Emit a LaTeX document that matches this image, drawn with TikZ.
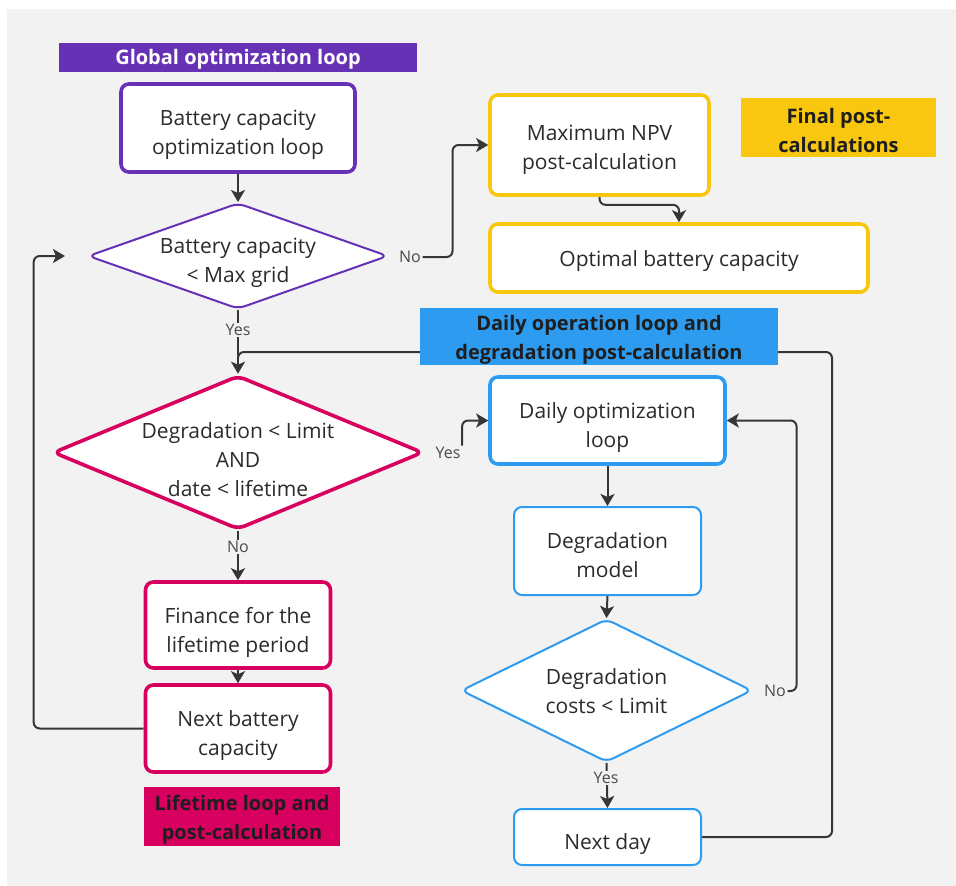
\documentclass[tikz,border=0pt]{standalone}
\usepackage{fontspec}
\setmainfont{Open Sans}
\usetikzlibrary{shapes.geometric,arrows.meta,calc}
\definecolor{bg}{HTML}{F2F2F2}
\definecolor{cpur}{HTML}{6631B5}
\definecolor{cyel}{HTML}{FAC710}
\definecolor{cpink}{HTML}{D8005F}
\definecolor{cblue}{HTML}{2D9BEF}
\definecolor{cline}{HTML}{363636}
\definecolor{ctext}{HTML}{2B2B2B}
\definecolor{clab}{HTML}{1E1E1E}
\pgfdeclarelayer{bglayer}
\pgfdeclarelayer{edges}
\pgfsetlayers{bglayer,edges,main}
\begin{document}
\begin{tikzpicture}[x=1pt,y=-1pt,
  box/.style={draw, fill=white, rounded corners=8pt, inner sep=0pt},
  thickb/.style={line width=3.6pt},
  thinb/.style={line width=2pt},
  dia/.style={diamond, draw, fill=white, rounded corners=7pt, inner sep=0pt},
  txt/.style={align=center, text=ctext, font=\fontsize{21}{29}\selectfont, inner sep=0pt},
  lab/.style={align=center, text=clab, font=\bfseries\fontsize{20}{29}\selectfont, inner sep=0pt},
  cond/.style={font=\fontsize{16}{18}\selectfont, text=ctext!85, fill=bg, inner sep=1.5pt},
  arr/.style={draw=cline, line width=2pt, rounded corners=6pt,
    -{Stealth[length=12pt,width=14pt,inset=3pt]}},
  ln/.style={draw=cline, line width=2pt, rounded corners=6pt}
]
\useasboundingbox (0,0) rectangle (956,886);
\begin{pgfonlayer}{bglayer}
  \fill[bg] (7,9) rectangle (956,886);
\end{pgfonlayer}

% labels of the groups
\node[fill=cpur, minimum width=358, minimum height=29, inner sep=0pt] (glab) at (238,57.5) {};
\node[lab, text=white] (glabt) at (238,59.5) {Global optimization loop};
\node[fill=cyel, minimum width=195, minimum height=59, inner sep=0pt] (flab) at (838.5,127.5) {};
\node[lab] (flabt) at (838.5,130) {Final post-\\calculations};
\node[fill=cblue, minimum width=358, minimum height=57, inner sep=0pt] (blab) at (599,336.5) {};
\node[lab] (blabt) at (599,339.5) {Daily operation loop and\\degradation post-calculation};
\node[fill=cpink, minimum width=196, minimum height=59, inner sep=0pt] (llab) at (242,816.5) {};
\node[lab] (llabt) at (242,819.5) {Lifetime loop and\\post-calculation};

% global loop
\node[box, thickb, draw=cpur, minimum width=234, minimum height=88] (b1) at (238,128) {};
\node[txt] (b1t) at (238,135) {Battery capacity\\optimization loop};
\node[dia, thinb, draw=cpur, minimum width=300, minimum height=106] (d1) at (238,256) {};
\node[txt] (d1t) at (238,262.5) {Battery capacity\\< Max grid};

% final post-calculations
\node[box, thickb, draw=cyel, minimum width=219, minimum height=100] (npv) at (599.5,145) {};
\node[txt] (npvt) at (599.5,149.5) {Maximum NPV\\post-calculation};
\node[box, thickb, draw=cyel, minimum width=378, minimum height=68] (opt) at (679,258) {};
\node[txt] (optt) at (679,261) {Optimal battery capacity};

% lifetime loop
\node[dia, thickb, draw=cpink, minimum width=370, minimum height=154] (d2) at (238,452.5) {};
\node[txt] (d2t) at (238,460) {Degradation < Limit\\AND\\date < lifetime};
\node[box, thickb, draw=cpink, minimum width=185, minimum height=86] (fin) at (238,625) {};
\node[txt] (fint) at (238,632) {Finance for the\\lifetime period};
\node[box, thickb, draw=cpink, minimum width=185, minimum height=87] (nbc) at (238,728.5) {};
\node[txt] (nbct) at (238,735.5) {Next battery\\capacity};

% daily loop
\node[box, thickb, draw=cblue, minimum width=235, minimum height=87] (daily) at (607.5,420.5) {};
\node[txt] (dailyt) at (607.5,427.5) {Daily optimization\\loop};
\node[box, thinb, draw=cblue, minimum width=187, minimum height=88] (dm) at (607.5,551) {};
\node[txt] (dmt) at (607.5,555) {Degradation\\model};
\node[dia, thinb, draw=cblue, minimum width=291, minimum height=143] (d3) at (606.5,690.5) {};
\node[txt] (d3t) at (606.5,691) {Degradation\\costs < Limit};
\node[box, thinb, draw=cblue, minimum width=187, minimum height=56] (nd) at (607.5,837) {};
\node[txt] (ndt) at (607.5,844) {Next day};

% condition labels
\node[cond] (no1) at (410,257) {No};
\node[cond] (yes1) at (238,330) {Yes};
\node[cond] (yes2) at (448,453) {Yes};
\node[cond] (no2) at (238,547) {No};
\node[cond] (no3) at (775,691) {No};
\node[cond] (yes3) at (606,778) {Yes};

\coordinate (ret) at ($(d1.west)+(-22,0)$);
\coordinate (join) at (238,352);

\begin{pgfonlayer}{edges}
  \draw[arr] (b1.south) -- (d1.north);
  \draw[arr] (no1.east) -- ++(30,0) |- (npv.west);
  \draw[arr] (npv.south) -- ++(0,8) -| (opt.north);
  \draw[arr] (d1.south) -- (d2.north);
  \draw[ln] (nd.east) -- ++(130,0) |- (join) -- ++(0,6);
  \draw[arr] (yes2.north east) |- (daily.west);
  \draw[arr] (d2.south) -- (fin.north);
  \draw[arr] (fin.south) -- (nbc.north);
  \draw[arr] (nbc.west) -- ++(-110,0) |- (ret);
  \draw[arr] (daily.south) -- (dm.north);
  \draw[arr] (dm.south) -- (d3.north);
  \draw[arr] (no3.east) -- ++(9,0) |- (daily.east);
  \draw[arr] (d3.south) -- (nd.north);
\end{pgfonlayer}
\end{tikzpicture}
\end{document}
